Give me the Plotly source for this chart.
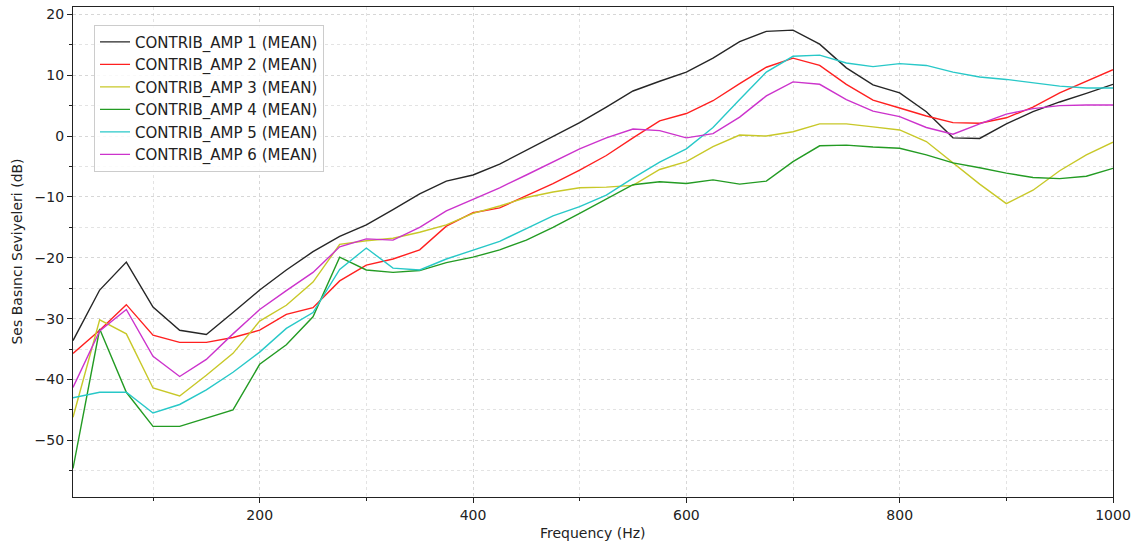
import plotly.graph_objects as go

freqs = list(range(25, 1001, 25))

amp1 = [-33.6, -25.3, -20.7, -28.1, -31.9, -32.6, -29.0, -25.3, -22.0, -19.0,
        -16.5, -14.6, -12.1, -9.5, -7.4, -6.4, -4.6, -2.3, 0.0, 2.2,
        4.75, 7.4, 9.0, 10.5, 12.8, 15.5, 17.2, 17.4, 15.1, 11.2,
        8.4, 7.1, 4.0, -0.3, -0.4, 2.0, 4.0, 5.6, 7.0, 8.5]
amp2 = [-35.7, -31.9, -27.7, -32.7, -33.9, -33.9, -33.1, -31.9, -29.3, -28.2,
        -23.8, -21.2, -20.2, -18.7, -14.8, -12.6, -11.8, -9.8, -7.8, -5.6,
        -3.2, -0.3, 2.5, 3.7, 5.8, 8.6, 11.3, 12.8, 11.6, 8.5,
        5.9, 4.6, 3.3, 2.2, 2.1, 3.0, 4.75, 7.1, 9.0, 10.9]
amp3 = [-46.2, -30.2, -32.5, -41.4, -42.7, -39.3, -35.7, -30.4, -27.8, -24.0,
        -17.8, -17.2, -16.8, -15.8, -14.6, -12.7, -11.5, -10.1, -9.2, -8.5,
        -8.4, -8.1, -5.5, -4.2, -1.75, 0.16, 0.0, 0.7, 2.0, 2.0,
        1.5, 1.0, -0.9, -4.4, -7.9, -11.1, -8.9, -5.7, -3.1, -1.0]
amp4 = [-54.6, -31.7, -42.1, -47.7, -47.7, -46.3, -45.0, -37.5, -34.3, -29.7,
        -19.9, -22.0, -22.4, -22.1, -20.8, -19.9, -18.7, -17.1, -15.0, -12.7,
        -10.4, -8.0, -7.5, -7.8, -7.2, -7.9, -7.4, -4.2, -1.6, -1.5,
        -1.8, -2.0, -3.1, -4.4, -5.2, -6.1, -6.8, -7.0, -6.6, -5.3]
amp5 = [-43.0, -42.1, -42.1, -45.5, -44.1, -41.7, -38.8, -35.5, -31.6, -29.0,
        -21.9, -18.4, -21.7, -22.0, -20.2, -18.7, -17.3, -15.2, -13.1, -11.6,
        -9.7, -6.9, -4.3, -2.1, 1.4, 6.0, 10.5, 13.1, 13.3, 12.0,
        11.4, 11.9, 11.6, 10.5, 9.7, 9.3, 8.7, 8.2, 7.9, 7.9]
amp6 = [-41.3, -32.0, -28.5, -36.2, -39.5, -36.7, -32.5, -28.5, -25.4, -22.4,
        -18.2, -16.9, -17.1, -15.0, -12.3, -10.4, -8.5, -6.4, -4.2, -2.1,
        -0.3, 1.15, 0.9, -0.3, 0.4, 3.1, 6.6, 8.9, 8.5, 6.0,
        4.1, 3.2, 1.4, 0.3, 2.0, 3.6, 4.5, 5.0, 5.1, 5.1]

series_names = [f"CONTRIB_AMP {i} (MEAN)" for i in range(1, 7)]
series_values = [amp1, amp2, amp3, amp4, amp5, amp6]
colors = ["#262626", "#ff2020", "#c8c828", "#239b23", "#28c8c8", "#cc33cc"]

y_ticks = [20, 10, 0, -10, -20, -30, -40, -50]
x_ticks = [200, 400, 600, 800, 1000]
x_title = "Frequency (Hz)"
y_title = "Ses Basıncı Seviyeleri (dB)"

fig = go.Figure()
for name, vals, c in zip(series_names, series_values, colors):
    fig.add_trace(go.Scatter(x=freqs, y=vals, mode="lines", name=name,
                             line=dict(color=c, width=1.4)))

font = dict(family="DejaVu Sans", size=14, color="#222222")
grid = dict(showgrid=True, gridcolor="rgba(176,176,176,0.5)", griddash="dot", gridwidth=0.8)

fig.update_layout(
    width=1137, height=544,
    margin=dict(l=72.5, r=24, t=7, b=47, autoexpand=False),
    paper_bgcolor="white", plot_bgcolor="white",
    font=font,
    showlegend=True,
    legend=dict(x=0.0202, y=0.964, xanchor="left", yanchor="top",
                bgcolor="rgba(255,255,255,0.85)", bordercolor="#cccccc", borderwidth=1,
                font=dict(family="DejaVu Sans", size=15, color="#222222"),
                tracegroupgap=0, itemwidth=30),
    annotations=[
        dict(text=x_title, xref="paper", yref="paper", x=0.5, y=-0.0735,
             xanchor="center", yanchor="middle", showarrow=False,
             font=dict(family="DejaVu Sans", size=14, color="#222222")),
        dict(text=y_title, xref="paper", yref="paper", x=-0.0543, y=0.5,
             xanchor="center", yanchor="middle", showarrow=False, textangle=-90,
             font=dict(family="DejaVu Sans", size=14, color="#222222")),
    ],
)
fig.update_xaxes(
    range=[25, 1000], tickvals=x_ticks, ticks="outside", ticklen=5, tickcolor="#222",
    showline=True, linecolor="#222", linewidth=1.2, mirror=True, zeroline=False,
    automargin=False,
    minor=dict(tickvals=[100, 300, 500, 700, 900], ticks="outside", ticklen=3,
               tickcolor="#222", showgrid=True, gridcolor="rgba(176,176,176,0.35)",
               griddash="dot"),
    **grid,
)
fig.update_yaxes(
    range=[-59.3, 21.2], tickvals=y_ticks, ticks="outside", ticklen=5, tickcolor="#222",
    showline=True, linecolor="#222", linewidth=1.2, mirror=True, zeroline=False,
    automargin=False,
    minor=dict(tickvals=[15, 5, -5, -15, -25, -35, -45, -55], ticks="outside", ticklen=3,
               tickcolor="#222", showgrid=True, gridcolor="rgba(176,176,176,0.35)",
               griddash="dot"),
    **grid,
)

fig.write_html("out.html", config={"displayModeBar": False},
               post_script="document.body.style.margin='0';document.body.style.overflow='hidden';")
